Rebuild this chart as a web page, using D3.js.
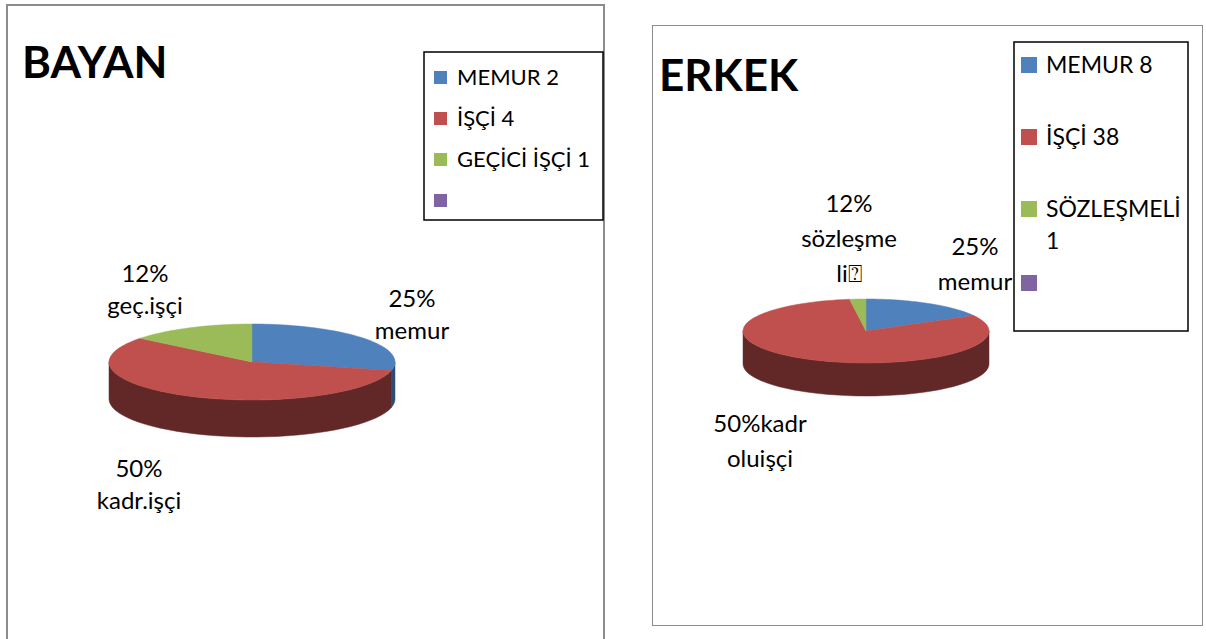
<!DOCTYPE html>
<html>
<head>
<meta charset="utf-8">
<script src="https://cdn.jsdelivr.net/npm/d3@7"></script>
<style>
  body { margin: 0; background: #fff; }
  text { font-family: Lato, "Open Sans", sans-serif; fill: #000; }
</style>
</head>
<body>
<svg class="s"></svg>
<script>
// data
var categories = ['MEMUR', 'İŞÇİ', 'GEÇİCİ İŞÇİ / SÖZLEŞMELİ', '']
var bayanValues = [2, 4, 1, 0]
var erkekValues = [8, 38, 1, 0]
var bayanLegend = [['MEMUR 2'], ['İŞÇİ 4'], ['GEÇİCİ İŞÇİ 1'], ['']]
var erkekLegend = [['MEMUR 8'], ['İŞÇİ 38'], ['SÖZLEŞMELİ', '1'], ['']]
var bayanText = [['25%', 'memur'], ['50%', 'kadr.işçi'], ['12%', 'geç.işçi']]
var erkekText = [['25%', 'memur'], ['50%kadr', 'oluişçi'], ['12%', 'sözleşme', 'li⍰']]

var colors = ['#4f81bd', '#c0504d', '#9bbb59', '#8064a2']
var sideColors = ['#2c4d75', '#622828', '#5f7530', '#4d3b62']

var w = 1206
var h = 639

var svg = d3.select('.s')
            .attr('width', w)
            .attr('height', h)

var drawChart = function(o){
  var g = svg.append('g')

  // frame
  g.append('rect')
    .attr('x', o.frame[0]).attr('y', o.frame[1])
    .attr('width', o.frame[2]).attr('height', o.frame[3])
    .attr('fill', 'none')
    .attr('stroke', '#8c8c8c')
    .attr('stroke-width', o.frameW)

  g.append('text')
    .attr('x', o.title[0]).attr('y', o.title[1])
    .attr('font-size', o.titleSize)
    .attr('font-weight', 'bold')
    .text(o.name)

  var pie = d3.pie().sort(null).value(function(d){ return d })
  var arcs = pie(o.values)

  var px = function(a){ return o.cx + o.rx * Math.sin(a) }
  var py = function(a, dz){ return o.cy - o.ry * Math.cos(a) + dz }
  var line = d3.line()

  // sides (front half only)
  arcs.forEach(function(d, i){
    var a0 = Math.max(d.startAngle, Math.PI / 2)
    var a1 = Math.min(d.endAngle, Math.PI * 1.5)
    if (a1 <= a0) return
    var ts = d3.range(0, 41).map(function(k){ return a0 + (a1 - a0) * k / 40 })
    var pts = ts.map(function(a){ return [px(a), py(a, 0)] })
      .concat(ts.slice().reverse().map(function(a){ return [px(a), py(a, o.depth)] }))
    g.append('path')
      .attr('d', line(pts) + 'Z')
      .attr('fill', sideColors[i])
      .attr('stroke', sideColors[i])
      .attr('stroke-width', 0.5)
  })

  // top faces
  arcs.forEach(function(d, i){
    if (d.endAngle <= d.startAngle) return
    var n = Math.max(2, Math.ceil((d.endAngle - d.startAngle) * 30))
    var pts = [[o.cx, o.cy]].concat(d3.range(0, n + 1).map(function(k){
      var a = d.startAngle + (d.endAngle - d.startAngle) * k / n
      return [px(a), py(a, 0)]
    }))
    g.append('path')
      .attr('d', line(pts) + 'Z')
      .attr('fill', colors[i])
      .attr('stroke', colors[i])
      .attr('stroke-width', 0.5)
  })

  // data labels
  o.labels.forEach(function(lines, i){
    var t = g.append('text')
      .attr('text-anchor', 'middle')
      .attr('font-size', o.labelSize)
    lines.forEach(function(s, j){
      t.append('tspan')
        .attr('x', o.labelPos[i][0])
        .attr('y', o.labelPos[i][1] + j * o.labelLead)
        .text(s)
    })
  })

  // legend
  g.append('rect')
    .attr('x', o.legend[0]).attr('y', o.legend[1])
    .attr('width', o.legend[2]).attr('height', o.legend[3])
    .attr('fill', '#fff')
    .attr('stroke', '#000')
    .attr('stroke-width', 1.5)

  o.legendText.forEach(function(lines, i){
    var yc = o.legendY[i]
    g.append('rect')
      .attr('x', o.legendSq[0])
      .attr('y', yc - o.legendSq[1] / 2)
      .attr('width', o.legendSq[1]).attr('height', o.legendSq[1])
      .attr('fill', colors[i])
    var t = g.append('text').attr('font-size', o.legendSize)
    lines.forEach(function(s, j){
      t.append('tspan')
        .attr('x', o.legendX)
        .attr('y', yc + o.legendSize * 0.36 + j * o.legendLead)
        .text(s)
    })
  })
}

drawChart({
  name: 'BAYAN', values: bayanValues,
  frame: [7, 5, 597, 650], frameW: 2,
  title: [22, 78], titleSize: 44,
  cx: 252, cy: 362, rx: 143, ry: 38, depth: 37,
  labels: bayanText, labelSize: 24, labelLead: 32,
  labelPos: [[412, 307], [139, 477], [145, 282]],
  legend: [424, 52, 179, 168], legendSq: [434, 13],
  legendX: 457, legendSize: 22, legendLead: 30,
  legendY: [77.5, 118.5, 159.5, 200.5], legendText: bayanLegend
})

drawChart({
  name: 'ERKEK', values: erkekValues,
  frame: [652.5, 25.5, 550, 600], frameW: 1,
  title: [659, 91], titleSize: 44,
  cx: 866, cy: 331, rx: 123, ry: 32, depth: 33,
  labels: erkekText, labelSize: 24, labelLead: 35,
  labelPos: [[975, 255], [760, 432], [849, 212]],
  legend: [1014, 42, 174, 289], legendSq: [1021, 16],
  legendX: 1046, legendSize: 23, legendLead: 32,
  legendY: [65, 137, 209, 283], legendText: erkekLegend
})
</script>
</body>
</html>
